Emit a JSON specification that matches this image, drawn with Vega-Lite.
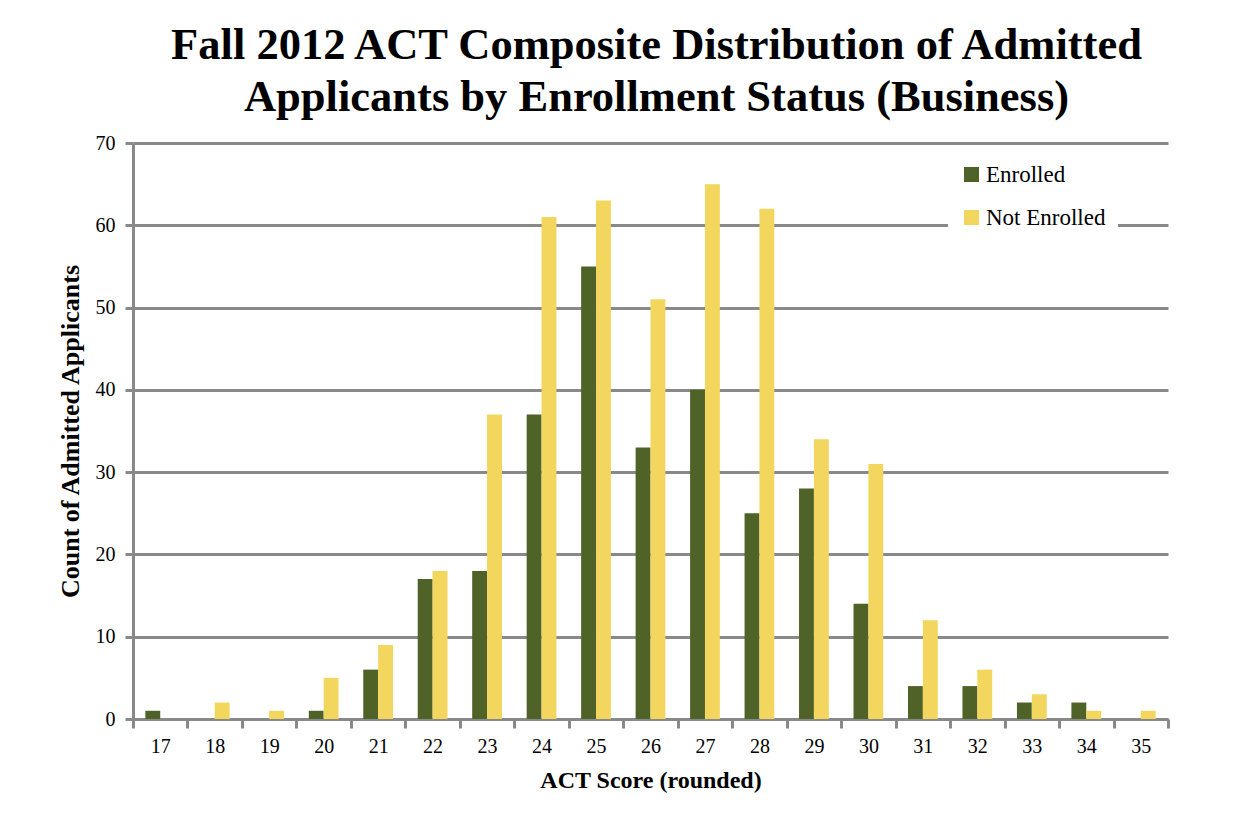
{
  "$schema": "https://vega.github.io/schema/vega-lite/v6.json",
  "autosize": "none",
  "width": 1035,
  "height": 576,
  "padding": {"left": 133, "top": 143, "right": 79, "bottom": 105},
  "background": "white",
  "title": {
    "text": ["Fall 2012 ACT Composite Distribution of  Admitted", "Applicants by Enrollment Status (Business)"],
    "font": "Liberation Serif",
    "fontSize": 44.5,
    "fontWeight": "bold",
    "color": "#000000",
    "anchor": "middle",
    "frame": "group",
    "dx": 6,
    "offset": 13,
    "lineHeight": 52
  },
  "data": {
    "values": [
      {"score": "17", "status": "Enrolled", "count": 1},
      {"score": "17", "status": "Not Enrolled", "count": 0},
      {"score": "18", "status": "Enrolled", "count": 0},
      {"score": "18", "status": "Not Enrolled", "count": 2},
      {"score": "19", "status": "Enrolled", "count": 0},
      {"score": "19", "status": "Not Enrolled", "count": 1},
      {"score": "20", "status": "Enrolled", "count": 1},
      {"score": "20", "status": "Not Enrolled", "count": 5},
      {"score": "21", "status": "Enrolled", "count": 6},
      {"score": "21", "status": "Not Enrolled", "count": 9},
      {"score": "22", "status": "Enrolled", "count": 17},
      {"score": "22", "status": "Not Enrolled", "count": 18},
      {"score": "23", "status": "Enrolled", "count": 18},
      {"score": "23", "status": "Not Enrolled", "count": 37},
      {"score": "24", "status": "Enrolled", "count": 37},
      {"score": "24", "status": "Not Enrolled", "count": 61},
      {"score": "25", "status": "Enrolled", "count": 55},
      {"score": "25", "status": "Not Enrolled", "count": 63},
      {"score": "26", "status": "Enrolled", "count": 33},
      {"score": "26", "status": "Not Enrolled", "count": 51},
      {"score": "27", "status": "Enrolled", "count": 40},
      {"score": "27", "status": "Not Enrolled", "count": 65},
      {"score": "28", "status": "Enrolled", "count": 25},
      {"score": "28", "status": "Not Enrolled", "count": 62},
      {"score": "29", "status": "Enrolled", "count": 28},
      {"score": "29", "status": "Not Enrolled", "count": 34},
      {"score": "30", "status": "Enrolled", "count": 14},
      {"score": "30", "status": "Not Enrolled", "count": 31},
      {"score": "31", "status": "Enrolled", "count": 4},
      {"score": "31", "status": "Not Enrolled", "count": 12},
      {"score": "32", "status": "Enrolled", "count": 4},
      {"score": "32", "status": "Not Enrolled", "count": 6},
      {"score": "33", "status": "Enrolled", "count": 2},
      {"score": "33", "status": "Not Enrolled", "count": 3},
      {"score": "34", "status": "Enrolled", "count": 2},
      {"score": "34", "status": "Not Enrolled", "count": 1},
      {"score": "35", "status": "Enrolled", "count": 0},
      {"score": "35", "status": "Not Enrolled", "count": 1}
    ]
  },
  "mark": {"type": "bar"},
  "encoding": {
    "x": {
      "field": "score",
      "type": "ordinal",
      "sort": null,
      "scale": {"paddingInner": 0, "paddingOuter": 0},
      "axis": {
        "title": "ACT Score (rounded)",
        "titleFont": "Liberation Serif",
        "titleFontSize": 24,
        "titleFontWeight": "bold",
        "titleColor": "#000000",
        "titlePadding": 12,
        "labelFont": "Liberation Serif",
        "labelFontSize": 20,
        "labelColor": "#000000",
        "labelAngle": 0,
        "labelPadding": 8,
        "tickBand": "extent",
        "tickSize": 9,
        "tickWidth": 3,
        "tickColor": "#898989",
        "domainColor": "#898989",
        "domainWidth": 3,
        "grid": false
      }
    },
    "xOffset": {
      "field": "status",
      "type": "nominal",
      "sort": ["Enrolled", "Not Enrolled"],
      "scale": {"paddingInner": 0, "paddingOuter": 0.83}
    },
    "y": {
      "field": "count",
      "type": "quantitative",
      "scale": {"domain": [0, 70], "nice": false},
      "axis": {
        "title": "Count of Admitted Applicants",
        "titleFont": "Liberation Serif",
        "titleFontSize": 26,
        "titleFontWeight": "bold",
        "titleColor": "#000000",
        "titlePadding": 12,
        "labelFont": "Liberation Serif",
        "labelFontSize": 20,
        "labelColor": "#000000",
        "labelPadding": 10,
        "values": [0, 10, 20, 30, 40, 50, 60, 70],
        "tickSize": 8,
        "tickWidth": 3,
        "tickColor": "#898989",
        "domainColor": "#898989",
        "domainWidth": 3,
        "grid": true,
        "gridColor": "#898989",
        "gridWidth": 3
      }
    },
    "color": {
      "field": "status",
      "type": "nominal",
      "scale": {"domain": ["Enrolled", "Not Enrolled"], "range": ["#4F6228", "#F3D65E"]},
      "legend": {
        "title": null,
        "orient": "none",
        "legendX": 815,
        "legendY": 8,
        "symbolType": "square",
        "symbolSize": 225,
        "symbolStrokeWidth": 0,
        "labelFont": "Liberation Serif",
        "labelFontSize": 23,
        "labelColor": "#000000",
        "labelOffset": 3,
        "rowPadding": 19,
        "fillColor": "white",
        "padding": 12
      }
    }
  },
  "config": {
    "view": {"stroke": null},
    "axis": {"labelFlush": false}
  }
}
